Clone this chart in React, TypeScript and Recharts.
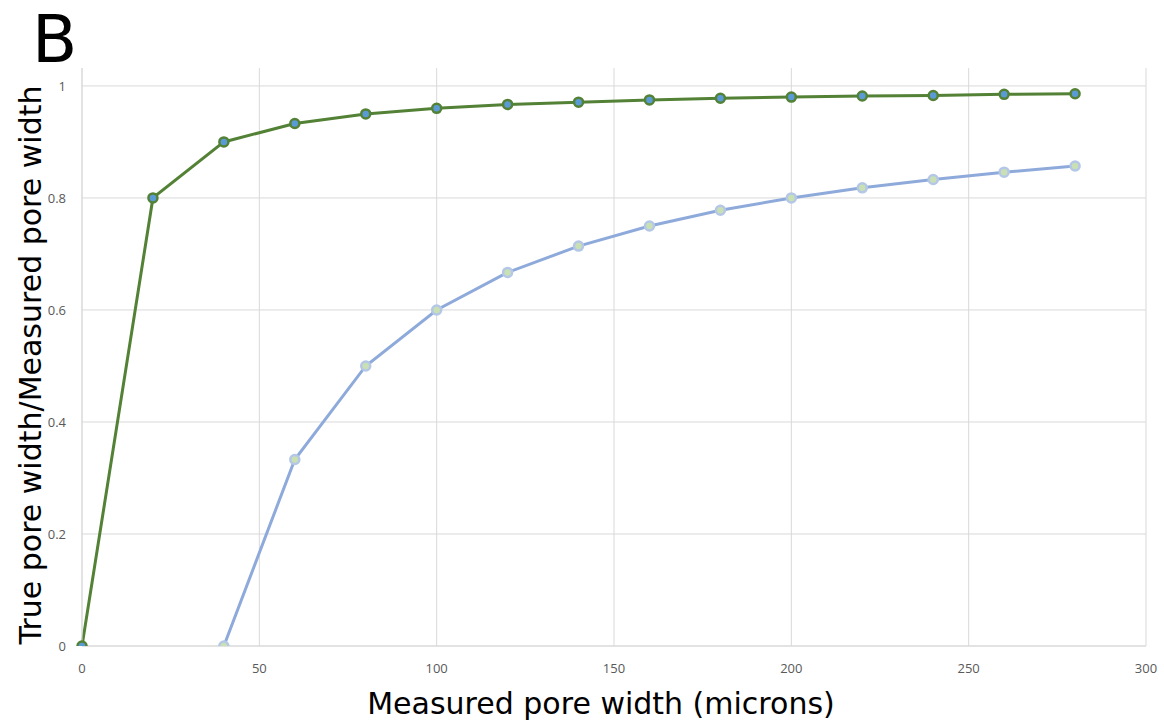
import { CartesianGrid, Line, LineChart, ReferenceLine, XAxis, YAxis } from "recharts";

const widths = [0, 20, 40, 60, 80, 100, 120, 140, 160, 180, 200, 220, 240, 260, 280];
const greenRatio = [0, 0.8, 0.9, 0.933, 0.95, 0.96, 0.967, 0.971, 0.975, 0.978, 0.98, 0.982, 0.983, 0.985, 0.986];
const blueRatio = [null, null, 0, 0.333, 0.5, 0.6, 0.667, 0.714, 0.75, 0.778, 0.8, 0.818, 0.833, 0.846, 0.857];
const xTicks = [0, 50, 100, 150, 200, 250, 300];
const yTicks = [0, 0.2, 0.4, 0.6, 0.8, 1];

const data = widths.map((w, i) => ({ w, green: greenRatio[i], blue: blueRatio[i] }));

const tickStyle = { fontSize: 13, fill: "#595959", fontFamily: "'Open Sans', sans-serif" };
const labelFont = "'DejaVu Sans', sans-serif";

export default function App() {
  return (
    <div style={{ position: "fixed", left: 0, top: 0, width: 1164, height: 724, background: "#fff" }}>
      <LineChart
        width={1164}
        height={724}
        data={data}
        margin={{ top: 68, right: 18, left: 52, bottom: 48 }}
      >
        <CartesianGrid stroke="#d9d9d9" horizontal={false} vertical />
        {yTicks.map((t) => (
          <ReferenceLine key={t} y={t} stroke="#d9d9d9" />
        ))}
        <XAxis
          type="number"
          dataKey="w"
          domain={[0, 300]}
          ticks={xTicks}
          tick={tickStyle}
          tickLine={false}
          axisLine={{ stroke: "#d9d9d9" }}
          tickMargin={12}
          height={30}
        />
        <YAxis
          type="number"
          domain={[0, 1.032]}
          ticks={yTicks}
          tick={tickStyle}
          tickLine={false}
          axisLine={{ stroke: "#d9d9d9" }}
          tickMargin={10}
          width={30}
          allowDataOverflow
        />
        <Line
          type="linear"
          dataKey="blue"
          stroke="#8eaadb"
          strokeWidth={3}
          dot={{ r: 4.5, fill: "#c9dfb4", stroke: "#b4c7e7", strokeWidth: 2.5 }}
          connectNulls={false}
          isAnimationActive={false}
        />
        <Line
          type="linear"
          dataKey="green"
          stroke="#538135"
          strokeWidth={3}
          dot={{ r: 4.5, fill: "#5b9bd5", stroke: "#538135", strokeWidth: 2.5 }}
          isAnimationActive={false}
        />
      </LineChart>
      <div
        style={{
          position: "absolute",
          left: 32,
          top: 2,
          fontFamily: labelFont,
          fontSize: 66,
          lineHeight: "76px",
          color: "#000",
        }}
      >
        B
      </div>
      <div
        style={{
          position: "absolute",
          left: 0,
          width: 1164,
          top: 686,
          paddingLeft: 38,
          boxSizing: "border-box",
          textAlign: "center",
          fontFamily: labelFont,
          fontSize: 30,
          lineHeight: "36px",
          color: "#000",
        }}
      >
        Measured pore width (microns)
      </div>
      <div
        style={{
          position: "absolute",
          left: 31,
          top: 365,
          transform: "translate(-50%, -50%) rotate(-90deg)",
          whiteSpace: "nowrap",
          fontFamily: labelFont,
          fontSize: 30,
          lineHeight: "36px",
          color: "#000",
        }}
      >
        True pore width/Measured pore width
      </div>
    </div>
  );
}
